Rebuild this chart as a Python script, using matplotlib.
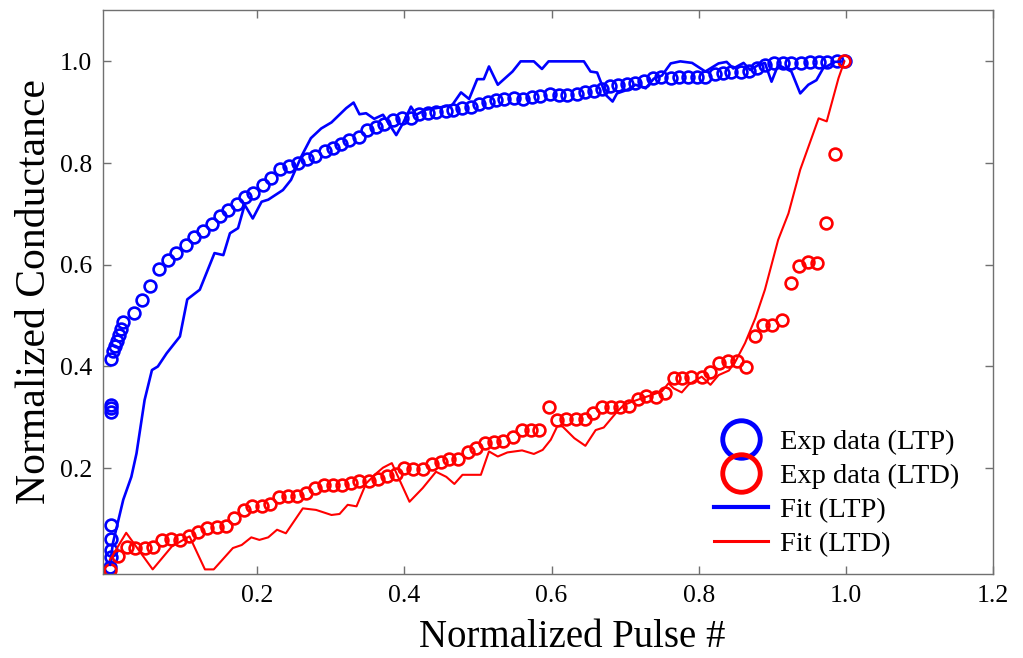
import numpy as np
import matplotlib.pyplot as plt
from matplotlib.lines import Line2D

plt.rcParams['font.family'] = ['Liberation Serif', 'DejaVu Serif']

# LTP experimental data (normalized pulse, normalized conductance)
ltp_x = [0.0, 0.001, 0.001, 0.001, 0.001, 0.001, 0.001, 0.001, 0.002, 0.004,
         0.007, 0.009, 0.012, 0.015, 0.018, 0.032, 0.043, 0.054, 0.066, 0.079,
         0.090, 0.103, 0.114, 0.126, 0.138, 0.149, 0.161, 0.173, 0.184, 0.195,
         0.208, 0.219, 0.231, 0.243, 0.255, 0.268, 0.279, 0.292, 0.303, 0.314,
         0.325, 0.338, 0.349, 0.362, 0.373, 0.385, 0.397, 0.409, 0.420, 0.432,
         0.443, 0.456, 0.466, 0.478, 0.490, 0.502, 0.514, 0.525, 0.536, 0.549,
         0.561, 0.574, 0.585, 0.598, 0.610, 0.621, 0.634, 0.645, 0.658, 0.669,
         0.679, 0.691, 0.702, 0.714, 0.726, 0.738, 0.749, 0.762, 0.773, 0.785,
         0.798, 0.809, 0.822, 0.833, 0.844, 0.857, 0.868, 0.879, 0.890, 0.903,
         0.915, 0.926, 0.939, 0.951, 0.963, 0.975, 0.988, 0.999]
ltp_y = [0.006, 0.025, 0.040, 0.061, 0.088, 0.310, 0.318, 0.325, 0.414, 0.430,
         0.440, 0.450, 0.462, 0.474, 0.488, 0.505, 0.531, 0.558, 0.592, 0.610,
         0.623, 0.639, 0.654, 0.667, 0.680, 0.695, 0.708, 0.720, 0.733, 0.742,
         0.757, 0.770, 0.788, 0.794, 0.801, 0.808, 0.814, 0.823, 0.829, 0.837,
         0.846, 0.852, 0.865, 0.871, 0.877, 0.885, 0.888, 0.888, 0.896, 0.898,
         0.901, 0.903, 0.905, 0.908, 0.911, 0.916, 0.921, 0.924, 0.926, 0.928,
         0.926, 0.929, 0.932, 0.936, 0.934, 0.934, 0.935, 0.940, 0.942, 0.945,
         0.951, 0.954, 0.956, 0.958, 0.961, 0.967, 0.969, 0.967, 0.969, 0.969,
         0.970, 0.969, 0.976, 0.978, 0.979, 0.979, 0.981, 0.986, 0.993, 0.996,
         0.996, 0.996, 0.996, 0.998, 0.998, 0.999, 1.000, 1.000]

# LTD experimental data
ltd_x = [0.0, 0.011, 0.023, 0.034, 0.047, 0.059, 0.071, 0.083, 0.095, 0.108,
         0.120, 0.132, 0.145, 0.157, 0.169, 0.182, 0.193, 0.206, 0.217, 0.230,
         0.242, 0.254, 0.267, 0.279, 0.291, 0.303, 0.315, 0.328, 0.339, 0.352,
         0.364, 0.376, 0.388, 0.400, 0.412, 0.425, 0.437, 0.450, 0.461, 0.473,
         0.486, 0.497, 0.509, 0.522, 0.534, 0.547, 0.560, 0.572, 0.583, 0.596,
         0.608, 0.620, 0.633, 0.645, 0.657, 0.669, 0.681, 0.693, 0.705, 0.717,
         0.729, 0.742, 0.754, 0.766, 0.778, 0.790, 0.804, 0.815, 0.827, 0.840,
         0.852, 0.864, 0.876, 0.888, 0.900, 0.913, 0.925, 0.937, 0.949, 0.961,
         0.973, 0.985, 0.998]
ltd_y = [0.000, 0.028, 0.046, 0.043, 0.043, 0.046, 0.059, 0.060, 0.059, 0.066,
         0.075, 0.082, 0.084, 0.087, 0.102, 0.117, 0.126, 0.125, 0.130, 0.144,
         0.146, 0.146, 0.152, 0.161, 0.167, 0.167, 0.167, 0.170, 0.174, 0.174,
         0.178, 0.185, 0.189, 0.200, 0.199, 0.199, 0.208, 0.213, 0.218, 0.218,
         0.232, 0.239, 0.250, 0.252, 0.254, 0.261, 0.275, 0.275, 0.275, 0.321,
         0.295, 0.296, 0.296, 0.296, 0.308, 0.321, 0.321, 0.321, 0.322, 0.337,
         0.342, 0.340, 0.348, 0.377, 0.377, 0.380, 0.380, 0.390, 0.406, 0.410,
         0.410, 0.399, 0.460, 0.481, 0.482, 0.492, 0.565, 0.598, 0.606, 0.603,
         0.683, 0.818, 1.000]

# Fits
fit_ltp_x = [0.0, 0.004, 0.018, 0.029, 0.036, 0.047, 0.057, 0.065, 0.077, 0.095,
             0.105, 0.122, 0.142, 0.154, 0.163, 0.174, 0.183, 0.194, 0.206, 0.215,
             0.235, 0.246, 0.260, 0.273, 0.287, 0.301, 0.321, 0.331, 0.339, 0.348,
             0.359, 0.371, 0.377, 0.389, 0.398, 0.409, 0.416, 0.429, 0.443, 0.465,
             0.477, 0.488, 0.499, 0.508, 0.515, 0.527, 0.547, 0.558, 0.576, 0.587,
             0.596, 0.644, 0.653, 0.662, 0.669, 0.673, 0.683, 0.689, 0.703, 0.714,
             0.728, 0.739, 0.750, 0.762, 0.775, 0.791, 0.809, 0.827, 0.838, 0.847,
             0.861, 0.870, 0.881, 0.890, 0.899, 0.908, 0.918, 0.926, 0.938, 0.949,
             0.960, 0.969, 0.985, 0.997]
fit_ltp_y = [0.010, 0.053, 0.138, 0.183, 0.229, 0.334, 0.393, 0.400, 0.426, 0.459,
             0.532, 0.551, 0.623, 0.619, 0.662, 0.672, 0.718, 0.691, 0.724, 0.728,
             0.747, 0.767, 0.813, 0.849, 0.868, 0.880, 0.908, 0.919, 0.896, 0.898,
             0.887, 0.895, 0.882, 0.855, 0.878, 0.911, 0.895, 0.905, 0.908, 0.914,
             0.939, 0.926, 0.965, 0.965, 0.990, 0.954, 0.980, 1.000, 1.000, 0.985,
             1.000, 1.000, 0.980, 0.978, 0.952, 0.935, 0.921, 0.937, 0.944, 0.954,
             0.947, 0.966, 0.972, 0.996, 1.000, 0.997, 0.980, 0.996, 0.999, 0.986,
             0.997, 0.983, 0.993, 0.997, 0.960, 0.993, 0.986, 0.980, 0.937, 0.954,
             0.963, 0.986, 0.999, 1.000]

fit_ltd_x = [0.0, 0.022, 0.058, 0.084, 0.108, 0.129, 0.141, 0.167, 0.179, 0.192,
             0.203, 0.215, 0.227, 0.239, 0.262, 0.280, 0.301, 0.312, 0.323, 0.335,
             0.348, 0.362, 0.371, 0.383, 0.407, 0.425, 0.443, 0.457, 0.468, 0.479,
             0.504, 0.515, 0.527, 0.540, 0.560, 0.576, 0.588, 0.599, 0.608, 0.615,
             0.631, 0.646, 0.660, 0.671, 0.689, 0.698, 0.710, 0.730, 0.750, 0.759,
             0.766, 0.777, 0.786, 0.804, 0.816, 0.827, 0.841, 0.850, 0.863, 0.877,
             0.890, 0.908, 0.922, 0.938, 0.963, 0.974, 0.990, 0.998]
fit_ltd_y = [0.020, 0.073, 0.001, 0.046, 0.066, 0.001, 0.001, 0.043, 0.049, 0.064,
             0.059, 0.064, 0.079, 0.072, 0.121, 0.118, 0.108, 0.110, 0.128, 0.125,
             0.170, 0.190, 0.201, 0.210, 0.134, 0.161, 0.193, 0.183, 0.169, 0.187,
             0.187, 0.233, 0.223, 0.231, 0.235, 0.228, 0.236, 0.256, 0.283, 0.282,
             0.259, 0.244, 0.275, 0.280, 0.311, 0.324, 0.331, 0.341, 0.351, 0.367,
             0.357, 0.349, 0.364, 0.380, 0.364, 0.383, 0.392, 0.410, 0.446, 0.495,
             0.551, 0.649, 0.701, 0.787, 0.888, 0.882, 0.967, 1.000]

fig = plt.figure(figsize=(10.23, 6.58), dpi=100)
ax = fig.add_axes([0.1007, 0.1277, 0.8700, 0.8571])

ax.plot(ltp_x, ltp_y, 'o', mfc='none', mec='#0000ff', ms=8.5, mew=1.9)
ax.plot(ltd_x, ltd_y, 'o', mfc='none', mec='#ff0000', ms=8.5, mew=1.9)
ax.plot(fit_ltp_x, fit_ltp_y, '-', color='#0000ff', lw=1.9)
ax.plot(fit_ltd_x, fit_ltd_y, '-', color='#ff0000', lw=1.5)

ax.set_xlim(-0.0095, 1.2)
ax.set_ylim(-0.008, 1.101)
ax.set_xticks([0.2, 0.4, 0.6, 0.8, 1.0, 1.2])
ax.set_xticklabels(['0.2', '0.4', '0.6', '0.8', '1.0', '1.2'])
ax.set_yticks([0.2, 0.4, 0.6, 0.8, 1.0])
ax.set_yticklabels(['0.2', '0.4', '0.6', '0.8', '1.0'])
ax.tick_params(direction='in', top=True, right=True, length=6, width=1,
               color='#707070', labelsize=18.5, pad=8)
for s in ax.spines.values():
    s.set_color('#707070')
    s.set_linewidth(1.0)

ax.set_xlabel('Normalized Pulse #', fontsize=28)
ax.set_ylabel('Normalized Conductance', fontsize=30)
ax.xaxis.set_label_coords(0.527, -0.08)
ax.yaxis.set_label_coords(-0.055, 0.5)

handles = [
    Line2D([], [], ls='none', marker='o', mfc='none', mec='#0000ff', ms=27, mew=3.5),
    Line2D([], [], ls='none', marker='o', mfc='none', mec='#ff0000', ms=27, mew=3.5),
    Line2D([], [], color='#0000ff', lw=3),
    Line2D([], [], color='#ff0000', lw=2.2),
]
labels = ['Exp data (LTP)', 'Exp data (LTD)', 'Fit (LTP)', 'Fit (LTD)']
ax.legend(handles, labels, loc='lower right', bbox_to_anchor=(0.985, -0.005),
          frameon=False, fontsize=20.5, handlelength=1.9, handletextpad=0.45,
          labelspacing=0.28, borderpad=0.2)

fig.savefig('out.png', dpi=100)
